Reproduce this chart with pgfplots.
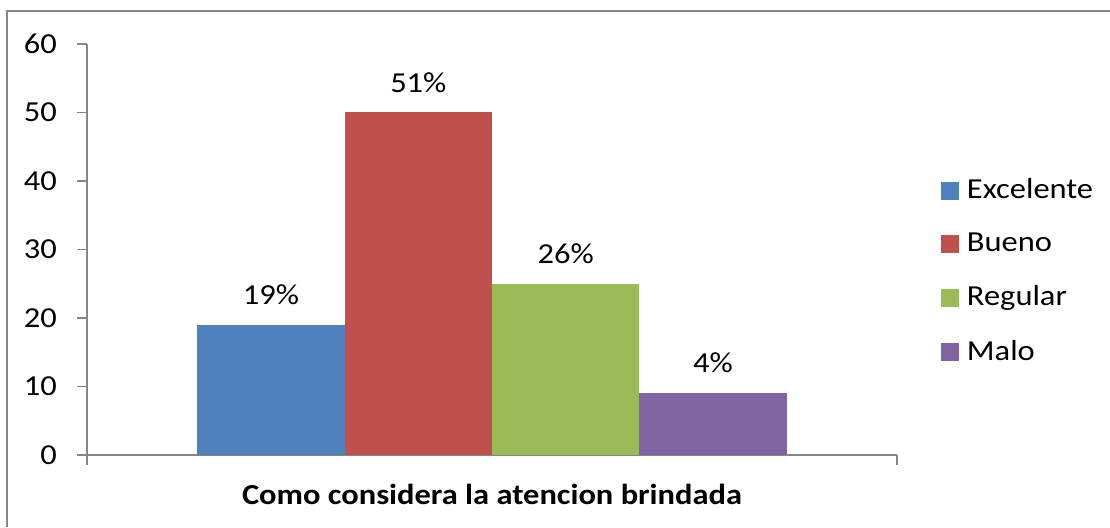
\documentclass[border=0pt]{standalone}
\usepackage{pgfplots}
\pgfplotsset{compat=1.18}
\usetikzlibrary{calc}
\usepackage{fontspec}
\setmainfont{Carlito}[FakeStretch=1.12]
\definecolor{cExc}{HTML}{4F81BD}
\definecolor{cBue}{HTML}{C0504D}
\definecolor{cReg}{HTML}{9BBB59}
\definecolor{cMal}{HTML}{8064A2}
\definecolor{axisgray}{HTML}{868686}
\begin{document}
\fontsize{29}{35}\selectfont
\begin{tikzpicture}
\begin{axis}[
    name=ax,
    scale only axis, width=810pt, height=411pt,
    ybar=0pt, bar width=147.3pt,
    xmin=-0.5, xmax=0.5, enlarge x limits=false,
    ymin=0, ymax=60, ytick={0,10,...,60},
    xtick={-0.5,0.5}, xticklabels={},
    axis x line*=bottom, axis y line*=left,
    axis line style={axisgray, line width=1.3pt},
    tick style={axisgray, line width=1.3pt},
    major tick length=10pt, tick align=outside,
    /pgf/number format/assume math mode=true,
    yticklabel style={font=\fontsize{29}{35}\selectfont, inner sep=0pt, xshift=-20pt},
    xlabel={\textbf{Como considera la atencion brindada}},
    xlabel style={at={(axis description cs:0.5,0)}, anchor=north, inner sep=0pt, yshift=-29pt},
    point meta=explicit symbolic,
    nodes near coords,
    every node near coord/.append style={anchor=south, inner sep=0pt, yshift=20pt, black},
    legend style={draw=none, fill=none, inner sep=0pt, at={(1.054,0.4465)}, anchor=west,
        nodes={inner sep=0pt}, row sep=30pt,
        /tikz/every odd column/.append style={column sep=8pt}},
    legend cell align=left,
    legend image code/.code={\fill[#1] (0pt,-9pt) rectangle (18pt,9pt);},
    clip=false,
]
\addplot[fill=cExc, draw=none] coordinates {(0,19) [19\%]};
\addplot[fill=cBue, draw=none] coordinates {(0,50) [51\%]};
\addplot[fill=cReg, draw=none] coordinates {(0,25) [26\%]};
\addplot[fill=cMal, draw=none] coordinates {(0,9) [4\%]};
\legend{Excelente, Bueno, Regular, Malo}
\end{axis}
\draw[axisgray, line width=2pt] ($(ax.south west)+(1023pt,444pt)$) -- ($(ax.south west)+(-80pt,444pt)$) -- ($(ax.south west)+(-80pt,-72pt)$);
\pgfresetboundingbox
\useasboundingbox ($(ax.south west)+(-87pt,-72pt)$) rectangle ($(ax.south west)+(1023pt,455pt)$);
\end{tikzpicture}
\end{document}
